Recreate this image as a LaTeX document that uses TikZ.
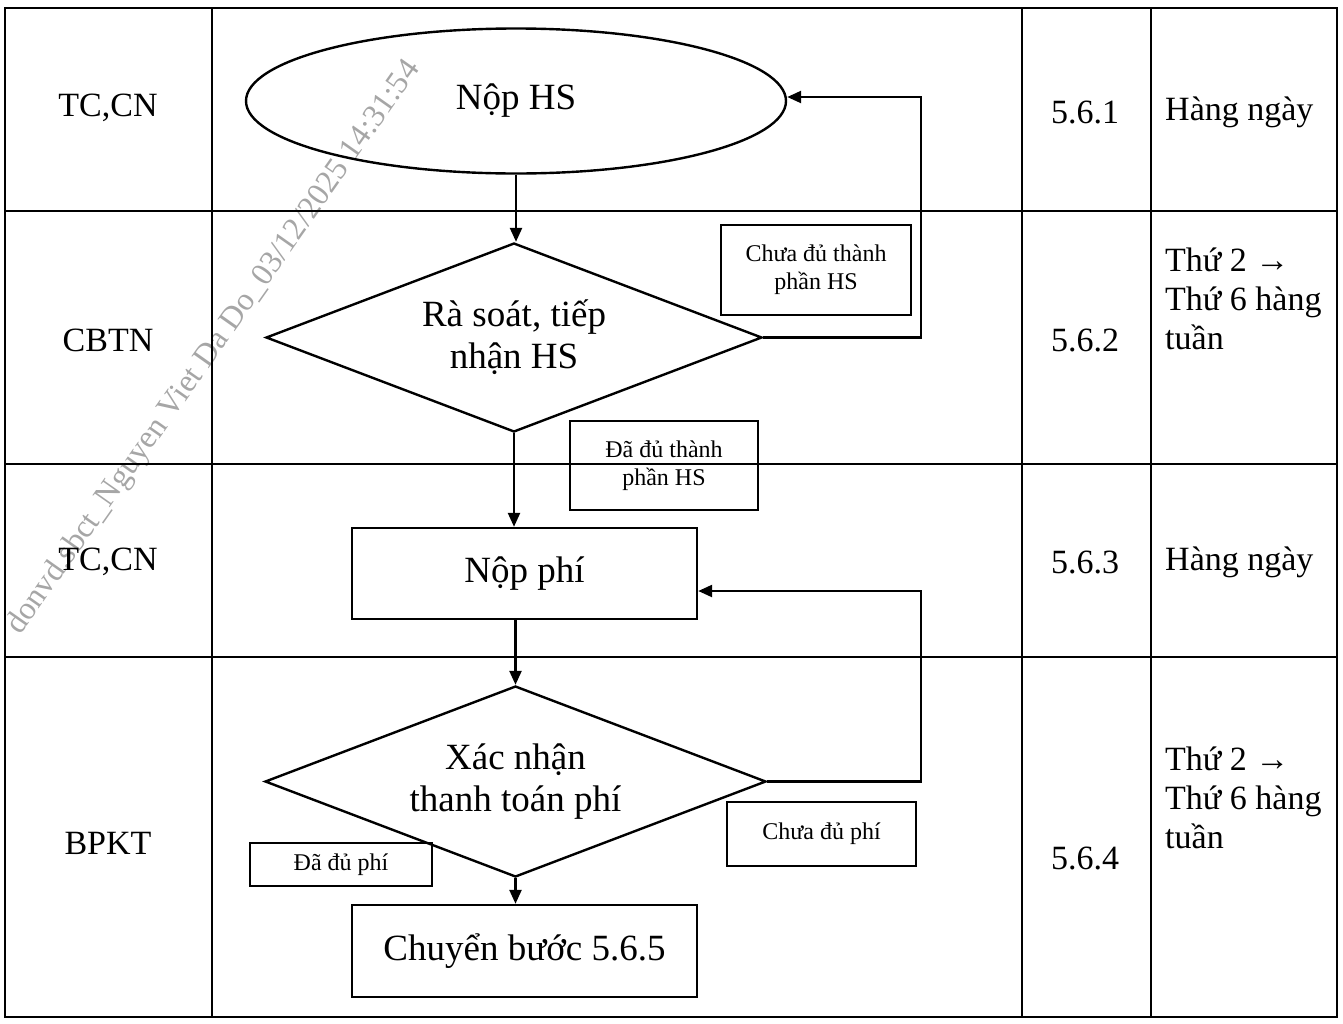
\documentclass[tikz,border=0pt]{standalone}
\usepackage{fontspec}
\setmainfont{Liberation Serif}
\usetikzlibrary{shapes.geometric,arrows.meta,calc}
\begin{document}
\begin{tikzpicture}[x=0.5pt,y=-0.5pt,line width=1.2pt,
  lbl/.style={font=\fontsize{17}{19.5}\selectfont,inner sep=0,align=left},
  big/.style={font=\fontsize{18.5}{21}\selectfont,align=center},
  box/.style={draw,rectangle,inner sep=0,align=center,big},
  note/.style={draw,rectangle,inner sep=0,align=center,font=\fontsize{12}{14}\selectfont},
  arr/.style={-{Triangle[length=7pt,width=6pt]}},
  wmark/.style={font=\fontsize{16}{16}\selectfont,text=black!35,rotate=54.8,inner sep=0}]
\useasboundingbox (0,0) rectangle (1343,1023);
% watermark
\node[wmark] (wm) at (214,348) {donvd.sbct\_Nguyen Viet Da Do\_03/12/2025 14:31:54};
% table
\draw (5,8) rectangle (1337,1017);
\draw (212,8) -- (212,1017);
\draw (1022,8) -- (1022,1017);
\draw (1151,8) -- (1151,1017);
\draw (5,211) -- (1337,211);
\draw (5,464) -- (1337,464);
\draw (5,657) -- (1337,657);
% left column
\node[lbl] (r1) at (108,108) {TC,CN};
\node[lbl] (r2) at (108,340) {CBTN};
\node[lbl] (r3) at (108,562) {TC,CN};
\node[lbl] (r4) at (108,843) {BPKT};
% step column
\node[lbl] (s1) at (1085,112) {5.6.1};
\node[lbl] (s2) at (1085,340) {5.6.2};
\node[lbl] (s3) at (1085,562) {5.6.3};
\node[lbl] (s4) at (1085,858) {5.6.4};
% time column
\node[lbl,anchor=west] (t1) at (1164,112) {Hàng ngày};
\node[lbl,anchor=west] (t2) at (1164,299) {Thứ 2 →\\Thứ 6 hàng\\tuần};
\node[lbl,anchor=west] (t3) at (1164,562) {Hàng ngày};
\node[lbl,anchor=west] (t4) at (1164,798) {Thứ 2 →\\Thứ 6 hàng\\tuần};
% flow
\node[draw,ellipse,inner sep=0,minimum width=270pt,minimum height=72.5pt,big] (e1) at (516,101) {Nộp HS};
\node[draw,diamond,aspect=2.6,inner sep=0,minimum width=248pt,minimum height=94.5pt,big] (d1) at (514,337.5) {Rà soát, tiếp\\nhận HS};
\node[note,minimum width=95pt,minimum height=45pt] (c1) at (816,270) {Chưa đủ thành\\phần HS};
\node[note,minimum width=94pt,minimum height=44.5pt] (c2) at (664,465.5) {Đã đủ thành\\phần HS};
\node[box,minimum width=172.5pt,minimum height=45.5pt] (b1) at (524.5,573.5) {Nộp phí};
\node[draw,diamond,aspect=2.6,inner sep=0,minimum width=250.5pt,minimum height=95.5pt,big] (d2) at (515.5,781.5) {Xác nhận\\thanh toán phí};
\node[note,minimum width=94.5pt,minimum height=32pt] (c3) at (821.5,834) {Chưa đủ phí};
\node[note,minimum width=91pt,minimum height=21.5pt] (c4) at (341,864.5) {Đã đủ phí};
\node[box,minimum width=172.5pt,minimum height=46pt] (b2) at (524.5,951) {Chuyển bước 5.6.5};
\coordinate (k1) at (921,97);
\coordinate (k2) at (921,591);
% connectors
\draw[arr] (e1.south) -- (e1.south |- d1.north);
\draw[arr] (d1.south) -- (d1.south |- b1.north);
\draw[arr] (d2.north |- b1.south) -- (d2.north);
\draw[arr] (d2.south) -- (d2.south |- b2.north);
\draw[arr] (d1.east) -- (d1.east -| k1) -- (k1) -- (k1 -| e1.east);
\draw[arr] (d2.east) -- (d2.east -| k2) -- (k2) -- (k2 -| b1.east);
\end{tikzpicture}
\end{document}
